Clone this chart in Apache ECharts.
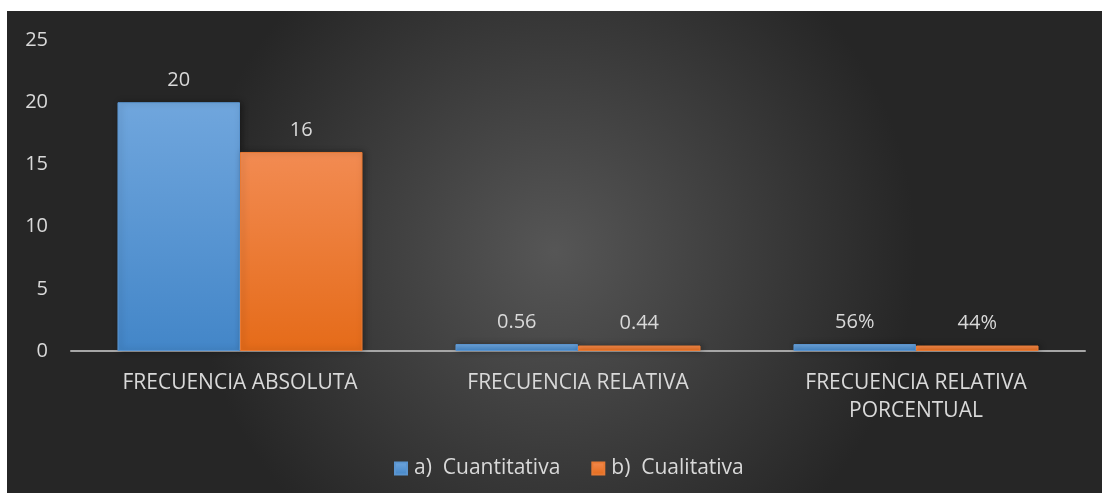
<!DOCTYPE html>
<html>
<head>
<meta charset="utf-8">
<script src="https://cdn.jsdelivr.net/npm/echarts@6/dist/echarts.min.js"></script>
<style>
  html, body { margin: 0; padding: 0; background: #fff; }
  #chart { position: absolute; left: 7px; top: 11px; width: 1095px; height: 482px; }
</style>
</head>
<body>
<div id="chart"></div>
<script>
const categories = ['FRECUENCIA ABSOLUTA', 'FRECUENCIA RELATIVA', 'FRECUENCIA RELATIVA\nPORCENTUAL']
const seriesNames = ['a)  Cuantitativa', 'b)  Cualitativa']
const cuantitativa = [20, 0.56, 0.56]
const cualitativa = [16, 0.44, 0.44]
const cuantLabels = ['20', '0.56', '56%']
const cualLabels = ['16', '0.44', '44%']
const yTicks = { min: 0, max: 25, interval: 5 }

const font = 'Open Sans'
const txt = '#d9d9d9'
const fs = 20

const grad = (top, bottom) => new echarts.graphic.LinearGradient(0, 0, 0, 1, [
  { offset: 0, color: top },
  { offset: 1, color: bottom }
])

const chart = echarts.init(document.getElementById('chart'))
chart.setOption({
  backgroundColor: new echarts.graphic.RadialGradient(0.5, 0.5, 0.75, [
    { offset: 0, color: '#565656' },
    { offset: 1, color: '#262626' }
  ]),
  textStyle: { fontFamily: font },
  grid: { left: 64, right: 17, top: 29, bottom: 142 },
  legend: {
    top: 442,
    left: 382,
    itemWidth: 12,
    itemHeight: 12,
    itemGap: 31,
    icon: 'rect',
    textStyle: { color: txt, fontSize: 21, fontFamily: font, padding: [0, 0, 0, 2] }
  },
  xAxis: {
    type: 'category',
    data: categories,
    axisLine: { lineStyle: { color: '#a6a6a6', width: 2 } },
    axisTick: { show: false },
    axisLabel: { color: txt, fontSize: 21, lineHeight: 28, margin: 18, interval: 0 }
  },
  yAxis: {
    type: 'value',
    min: yTicks.min,
    max: yTicks.max,
    interval: yTicks.interval,
    splitLine: { show: false },
    axisLine: { show: false },
    axisTick: { show: false },
    axisLabel: { color: txt, fontSize: fs, margin: 23 }
  },
  series: [
    {
      name: seriesNames[0],
      type: 'bar',
      data: cuantitativa,
      barGap: 0,
      barCategoryGap: '27.5%',
      itemStyle: { color: grad('#70a6dd', '#4386c8'), borderColor: '#5b95d0', borderWidth: 1,
        shadowColor: 'rgba(0,0,0,0.35)', shadowBlur: 6, shadowOffsetX: 2 },
      label: { show: true, position: 'top', distance: 12, color: txt, fontSize: fs,
        formatter: p => cuantLabels[p.dataIndex] }
    },
    {
      name: seriesNames[1],
      type: 'bar',
      data: cualitativa,
      itemStyle: { color: grad('#f28b52', '#e56b19'), borderColor: '#e87a35', borderWidth: 1,
        shadowColor: 'rgba(0,0,0,0.35)', shadowBlur: 6, shadowOffsetX: 2 },
      label: { show: true, position: 'top', distance: 12, color: txt, fontSize: fs,
        formatter: p => cualLabels[p.dataIndex] }
    }
  ]
})
</script>
</body>
</html>
